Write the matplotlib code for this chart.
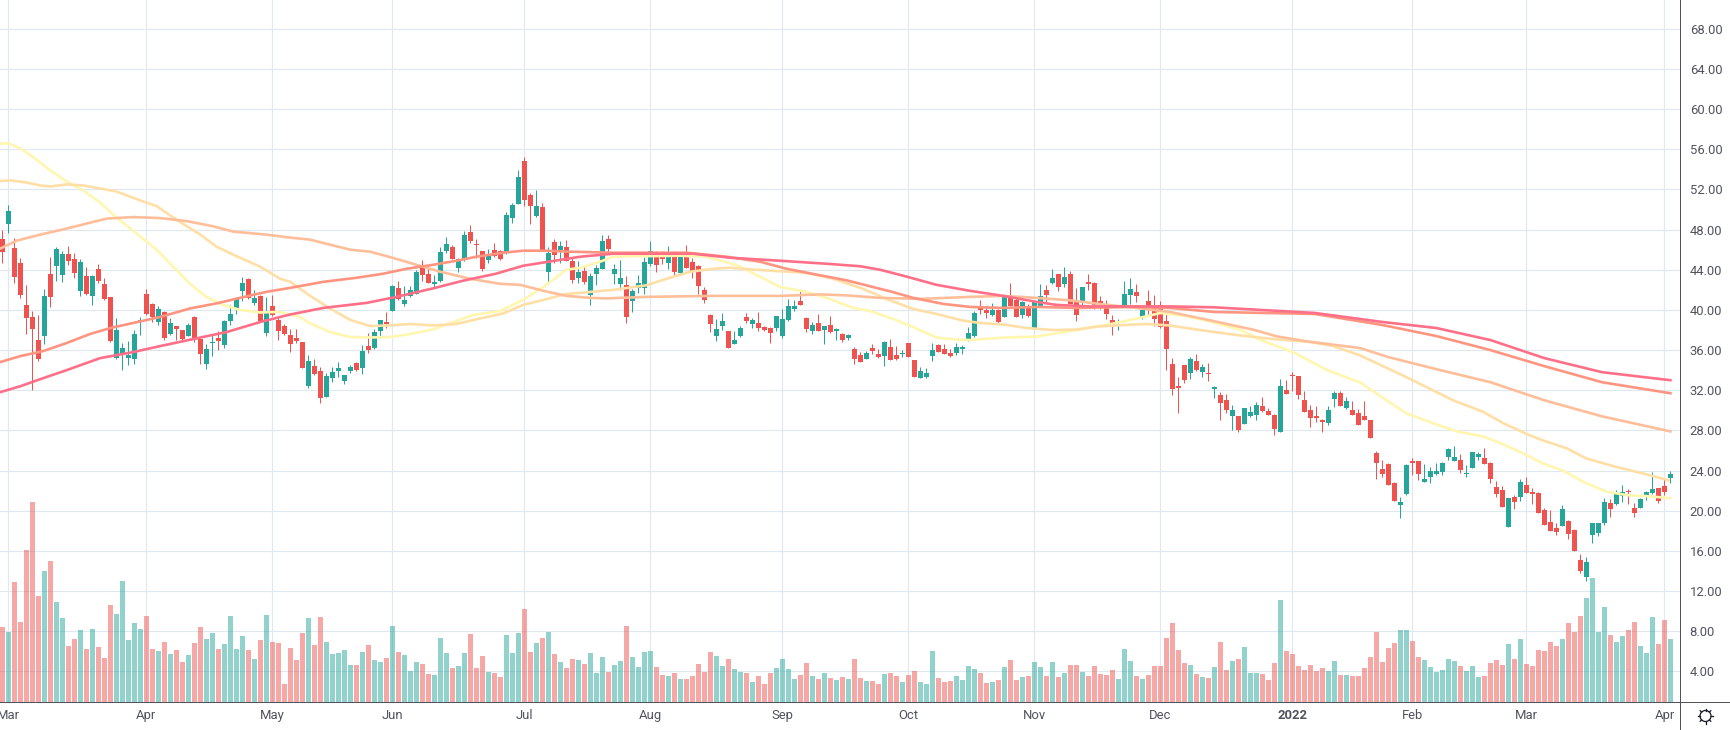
import matplotlib
matplotlib.use("Agg")
import matplotlib.pyplot as plt
from matplotlib.lines import Line2D
from matplotlib.patches import Circle
from matplotlib.transforms import IdentityTransform
import math

plt.rcParams['font.family'] = ['Roboto', 'DejaVu Sans']

opens = [47.06,48.56,46.17,44.67,40.49,39.29,37.0,37.4,43.57,44.37,
 43.48,45.57,45.07,41.88,43.38,41.38,44.07,42.58,41.28,35.2,
 35.6,35.2,35.1,38.85,41.58,40.6,38.8,39.79,37.6,38.39,
 38.0,37.4,39.29,37.1,34.6,36.7,37.2,36.5,38.9,40.2,
 41.88,43.08,40.69,41.38,37.69,40.39,38.99,38.39,37.5,37.2,
 36.8,32.41,34.4,33.9,31.3,33.2,33.9,32.9,33.9,34.7,
 34.2,36.4,36.2,37.9,38.8,39.9,42.2,40.6,41.4,41.6,
 44.5,43.6,42.6,42.9,45.9,46.3,44.2,45.0,47.8,46.6,
 45.9,45.0,46.0,45.9,45.7,49.2,50.6,54.8,51.4,49.4,
 50.3,43.8,46.8,46.0,46.3,44.9,43.2,43.85,41.46,43.55,
 44.05,47.04,43.55,42.55,42.45,40.86,42.15,42.15,44.54,45.24,
 45.54,44.64,45.54,43.65,45.54,44.74,44.35,41.95,39.46,37.37,
 38.37,37.87,36.57,37.37,39.26,38.56,38.66,38.27,38.17,38.17,
 37.37,38.96,40.06,40.86,39.16,37.87,38.66,37.97,38.47,37.87,
 37.57,37.17,36.07,35.47,35.08,36.17,35.58,35.38,36.27,35.48,
 35.58,36.67,34.98,33.19,33.29,35.38,36.47,36.07,35.67,35.67,
 36.07,36.87,37.37,40.25,39.95,39.46,39.95,39.26,41.25,40.95,
 39.46,40.25,38.06,40.35,41.94,42.64,43.54,42.54,43.54,40.85,
 40.75,42.74,42.64,40.85,40.55,38.96,38.5,40.35,41.45,41.74,
 39.26,40.85,40.35,40.45,38.86,34.63,32.43,34.53,33.73,34.93,
 33.83,33.73,32.13,31.53,31.03,29.43,29.43,28.63,29.43,29.53,
 30.43,29.93,29.53,27.83,32.03,33.53,33.43,31.03,30.03,29.43,
 29.03,28.73,31.13,31.73,30.23,30.03,29.73,29.43,29.03,25.74,
 24.15,24.64,22.75,20.56,21.65,24.94,24.94,22.85,23.35,23.65,
 23.85,25.34,24.94,25.04,23.65,24.25,25.34,25.24,24.74,22.35,
 22.05,18.37,21.36,21.36,22.55,21.85,21.75,20.06,18.87,18.27,
 18.47,18.97,18.07,15.09,13.4,17.58,17.77,18.77,20.75,20.66,
 21.45,21.95,20.26,20.26,21.45,21.75,22.25,22.44,23.24]

closes = [45.77,49.85,43.28,41.48,39.19,38.09,35.1,41.38,41.28,46.07,
 45.57,44.87,43.67,44.77,41.58,43.38,42.88,41.08,36.9,38.0,
 36.2,35.5,37.6,39.0,39.6,39.29,40.09,37.2,38.69,38.09,
 37.1,38.5,37.0,35.6,36.1,36.8,36.9,38.9,39.6,41.08,
 42.68,41.18,41.18,38.89,39.89,39.49,37.9,37.6,36.6,36.9,
 34.2,34.9,33.6,31.2,33.4,33.8,34.2,33.5,34.3,34.0,
 35.9,36.0,37.8,39.0,38.6,42.4,41.1,41.0,42.0,43.8,
 43.5,42.7,42.8,45.8,46.6,45.1,45.1,47.5,46.9,46.5,
 44.1,45.5,45.4,45.1,49.5,50.5,53.2,50.9,50.4,50.4,
 45.9,45.7,45.5,46.4,44.9,43.0,43.8,42.75,43.35,44.15,
 46.84,46.04,44.05,43.15,39.26,41.85,42.65,44.74,45.84,44.45,
 45.04,45.64,43.75,45.24,44.15,43.85,42.35,40.96,38.56,38.07,
 38.86,36.17,36.97,38.17,38.86,38.96,38.17,37.97,37.67,39.36,
 39.06,40.36,40.36,40.46,38.07,38.46,37.87,38.37,37.77,38.07,
 36.97,37.47,35.08,34.78,35.67,35.87,35.28,36.77,34.98,35.08,
 35.67,35.28,33.29,33.88,33.68,35.97,35.77,35.58,35.38,36.27,
 36.27,37.67,39.65,39.95,39.65,39.95,38.76,41.25,40.35,39.26,
 40.75,39.36,40.85,41.35,41.45,43.14,42.24,43.24,40.55,39.46,
 42.24,42.54,40.45,40.55,39.56,38.36,38.63,41.55,42.04,41.35,
 39.95,40.35,39.06,38.26,36.13,32.13,32.23,33.03,35.13,34.03,
 34.33,33.63,32.33,30.73,30.03,30.03,28.03,30.23,29.83,30.53,
 29.93,29.53,28.13,32.43,31.63,33.43,31.53,29.83,29.23,29.23,
 28.83,30.03,31.73,30.43,30.93,29.53,28.53,29.03,27.24,24.74,
 23.65,22.55,20.96,20.86,24.54,24.74,23.65,23.15,23.95,23.95,
 24.74,26.14,25.34,24.04,23.75,25.84,25.64,24.64,23.15,21.65,
 20.36,21.26,20.86,22.85,21.75,21.65,19.76,18.57,17.97,17.87,
 20.16,17.68,15.99,14.0,14.89,18.77,18.77,20.85,20.16,21.75,
 21.85,21.85,19.76,21.15,21.85,22.15,20.95,21.85,23.64]

highs = [47.97,50.45,47.16,45.17,42.48,39.89,39.49,42.08,45.27,46.27,
 45.87,46.37,45.67,45.07,44.27,43.48,44.57,43.18,41.28,39.19,
 36.7,36.9,38.0,39.29,42.08,40.7,40.39,39.89,39.19,38.39,
 38.0,38.69,39.39,37.1,36.6,37.6,37.9,39.0,40.5,41.28,
 43.28,43.18,41.98,41.48,41.28,41.48,39.39,38.59,38.09,38.09,
 36.8,35.5,35.1,34.3,33.7,34.3,34.8,33.5,34.5,34.8,
 36.5,37.7,38.1,39.0,39.8,42.5,42.9,42.4,42.4,44.0,
 45.0,44.5,43.5,46.3,47.3,46.5,45.2,47.9,48.5,47.1,
 45.9,46.1,46.7,46.0,49.8,50.7,53.9,55.2,51.6,51.9,
 50.7,46.3,47.1,46.9,47.0,45.3,44.9,44.45,43.65,44.45,
 47.44,47.44,44.55,44.94,43.35,42.05,43.45,45.24,46.84,45.84,
 45.84,46.34,45.84,45.54,46.44,45.14,44.45,42.25,39.56,39.06,
 39.66,37.87,37.87,38.37,39.66,39.16,39.76,38.37,38.27,39.36,
 40.06,41.06,40.96,41.85,39.26,38.76,39.56,38.37,39.36,38.17,
 37.67,37.57,36.27,35.78,35.87,36.57,36.07,36.87,37.07,36.37,
 35.97,36.67,34.98,34.28,34.18,36.67,36.57,36.57,36.07,36.67,
 36.47,38.27,39.85,40.95,40.35,40.65,40.05,41.45,42.64,41.25,
 40.85,40.55,40.85,42.54,42.44,44.03,43.54,44.23,43.83,42.14,
 42.24,43.54,42.74,41.35,40.95,39.46,39.06,42.84,43.14,42.54,
 40.35,41.94,41.45,40.85,39.66,35.23,33.33,34.53,35.33,35.63,
 34.63,34.73,32.43,31.83,31.63,30.53,29.43,30.23,30.43,30.83,
 31.33,30.23,29.63,33.13,33.03,33.83,33.43,31.93,30.53,30.43,
 29.13,30.43,31.93,31.93,31.33,30.93,30.13,30.92,29.03,25.94,
 25.04,24.74,22.85,21.36,24.64,25.24,24.94,24.64,24.35,24.74,
 24.84,26.24,26.44,25.64,24.54,25.84,25.84,26.24,24.84,22.95,
 22.45,21.26,21.56,23.15,23.35,22.25,21.85,20.26,20.06,18.77,
 20.56,19.07,18.17,15.69,15.39,18.77,18.77,21.25,21.15,22.05,
 22.54,22.15,20.75,21.25,21.95,23.83,22.25,23.24,23.93]

lows = [44.67,47.66,42.68,41.18,37.6,32.0,34.9,36.6,40.29,42.88,
 42.78,44.47,43.18,41.38,41.48,40.49,42.68,40.98,36.8,35.1,
 34.0,34.5,34.6,37.5,39.5,38.8,38.5,37.0,37.5,37.0,
 36.8,37.4,36.8,34.6,34.1,35.4,36.0,36.2,38.5,39.6,
 40.88,41.08,40.49,38.79,37.4,39.39,37.0,37.5,35.8,36.7,
 34.2,32.2,33.5,30.7,31.3,32.8,33.3,32.6,33.7,33.9,
 33.6,35.7,36.1,37.2,38.2,39.9,41.0,40.4,41.3,41.6,
 42.9,42.7,42.2,42.8,45.7,45.1,43.8,44.9,46.7,45.2,
 43.9,44.7,45.3,45.0,45.6,48.7,50.6,50.4,48.6,49.3,
 45.9,42.8,44.7,44.7,44.9,42.7,42.7,42.55,40.46,42.45,
 44.05,45.54,42.55,41.95,38.66,39.76,41.65,41.55,44.35,43.75,
 44.54,44.05,43.45,43.65,44.15,43.15,41.55,40.66,37.77,36.87,
 37.97,36.17,36.57,37.27,38.66,38.17,37.87,37.87,36.67,37.87,
 37.17,38.86,39.86,40.46,37.77,37.57,37.87,36.57,37.67,36.97,
 36.77,36.97,34.58,34.78,35.08,35.57,35.18,34.38,34.98,34.98,
 35.28,35.28,33.29,33.19,33.19,34.88,35.77,35.58,35.28,35.48,
 35.58,36.87,37.27,39.56,39.16,39.36,38.56,39.26,40.35,39.26,
 39.16,39.26,38.06,40.25,40.65,42.54,41.84,42.24,40.55,38.86,
 40.35,41.94,40.05,40.05,39.06,37.47,37.96,40.25,40.55,40.75,
 39.06,39.46,38.36,38.16,33.98,31.53,29.73,32.73,33.13,33.93,
 33.33,32.93,31.23,29.03,29.73,28.03,27.83,28.63,29.33,29.03,
 29.83,29.53,27.53,27.83,31.63,31.93,31.13,29.83,28.33,28.83,
 27.83,28.53,30.33,30.43,30.13,29.53,28.53,29.03,27.24,23.15,
 23.35,22.55,20.96,19.26,21.55,23.55,23.05,22.85,22.75,23.55,
 23.55,25.04,24.94,23.75,23.35,24.25,25.04,24.64,22.75,21.36,
 20.36,18.37,20.16,20.96,21.75,20.65,19.76,18.57,17.97,17.58,
 18.47,17.18,15.99,13.8,13.0,16.78,17.48,18.57,19.36,20.56,
 20.85,20.66,19.36,20.26,21.05,21.65,20.75,21.55,22.74]

volumes = [75,70,120,80,152,200,106,131,141,100,
 84,56,63,72,53,73,55,44,97,88,
 121,62,79,73,86,53,51,60,48,52,
 40,47,59,75,63,69,53,58,86,53,
 66,52,43,62,87,60,59,18,54,42,
 69,84,57,85,60,48,49,52,37,37,
 50,57,42,40,44,76,50,47,31,40,
 38,28,27,64,49,34,36,49,68,34,
 46,30,29,25,67,49,69,93,50,59,
 64,70,48,40,34,43,42,38,49,29,
 45,30,37,41,76,45,35,50,51,35,
 27,26,29,23,23,26,38,30,50,46,
 36,43,33,30,29,20,26,18,29,34,
 43,33,23,27,39,26,23,29,24,22,
 25,23,43,24,21,21,18,28,29,26,
 20,27,31,20,18,51,24,20,21,26,
 22,36,33,29,19,20,22,35,42,22,
 25,26,40,35,26,40,25,29,37,37,
 30,26,36,28,27,32,23,53,41,26,
 23,27,36,36,64,79,52,39,37,28,
 25,24,35,60,32,41,43,55,29,29,
 28,22,39,102,51,48,36,32,37,31,
 34,31,41,27,27,26,26,34,45,70,
 40,54,59,72,72,61,45,42,35,30,
 32,43,41,36,31,36,25,26,39,42,
 37,58,43,63,38,36,52,51,60,56,
 63,79,70,86,104,124,70,95,67,60,
 66,72,80,56,49,85,58,82,63]

ma1_x = [-0.4,1,3,5.2,8,10.7,13.5,16.3,19,22,25.7,28.5,31.3,34,36.8,39.6,43,46.3,49.6,51.3,54.6,58,61.3,64.6,68,71.8,75.2,78.5,83,86.8,90.2,94,96.3,99.6,101.8,105.8,113,117.4,122.4,126.3,129.6,134,137.4,141.8,144.6,148.5,151.8,155.7,159,161.3,166.8,172.4,178,183.5,188,191.3,193,197,201,206.3,209.6,215.2,220.7,226.3,230.7,234,238.5,242.4,246.8,249.6,253,256.8,260.2,263.5,267.4,270.8,274.2,278]
ma1_y = [56.56,56.6,56.1,55.2,53.9,52.8,51.9,50.7,49.2,47.8,46,44.3,42.6,41.3,40.5,40,39.75,39.8,39.3,38.66,37.8,37.3,37.26,37.3,37.6,38.06,38.8,39.5,39.9,41,42.3,44,44.2,44.8,45.3,45.35,45.4,45.3,44.45,43.3,42.3,41.8,41.2,40.2,39.9,39.1,38.3,37.25,37.05,37,37.25,37.35,37.9,38.45,39,39.45,39.7,39.4,38.9,38.03,37.03,35.77,34.03,32.77,31,29.7,28.7,27.9,27.4,26.75,25.85,24.7,23.97,22.87,21.9,21.55,21.45,21.25]
ma2_x = [-0.4,1.3,4,6.3,8,10.7,13.5,16.3,19,23,25.7,29,33,35.7,38.5,43,46.3,48,51.3,54.6,58,61.3,64.6,68,71.8,75.7,79.6,83.5,86.8,90.2,94,96.3,101.8,107.3,110.7,114.6,118.5,121.3,125.7,129.6,134,138.5,143,148,151.8,155.7,160,162.9,166.8,170.7,175.2,179.1,182.4,187,190.7,194.6,199.6,205.7,211.8,218,221.8,226.3,234,241.8,246.8,250.2,254.6,256.8,260.8,264,269,273.5,277.7]
ma2_y = [52.84,52.9,52.7,52.4,52.3,52.5,52.4,52.1,51.8,50.9,50.35,49,47.5,46.3,45.5,44.3,43.1,42.8,41.4,40.15,39,38.4,38.46,38.6,38.46,38.6,39.15,39.65,40.5,41,41.6,41.7,42,42.45,43.1,43.8,44.1,44.2,44,43.85,43.7,43.1,42.2,40.95,40.1,39.6,38.95,38.7,38.55,38.2,38,38.05,38.35,38.5,38.6,38.45,38,37.5,37.1,36.8,36.4,35.47,33.3,31,29.85,28.7,27.5,27,26.2,25.2,24.36,23.7,23.04]
ma3_x = [-0.4,2.4,6.3,10.7,14,17.4,21.8,26.3,30.7,35,38.5,44,48,51.3,54.6,58,61.3,65,69,73,78,83,86.3,90.2,94,98,100.7,107.3,118.5,129.6,136.3,140.7,146.3,153,161.3,166.8,172.4,178,183.5,189,194.6,201,208.5,212.4,217.4,226.3,231,239,248,257,266.6,278]
ma3_y = [46.1,46.9,47.5,48.1,48.6,49.1,49.25,49.15,48.85,48.35,47.8,47.5,47.2,47,46.5,46,45.8,45.2,44.5,43.8,43.1,42.6,42.5,41.9,41.4,41.2,41.15,41.3,41.4,41.4,41.55,41.45,41.2,41.1,41.3,41.4,41.2,40.95,40.55,40.2,39.8,39,38.03,37.37,36.87,36.2,35.3,34.1,32.8,31,29.4,27.9]
ma4_x = [-0.4,3,6.8,10.7,14.6,18,21.8,26.3,31.3,35.7,39.6,44,48,53.5,59,63.4,67.4,71.8,75.7,79,83.5,86.8,90.7,94.6,101.8,114,120.7,126.3,130.7,135,140.7,146.3,148,151.8,156.8,161.3,166.8,172.4,179,189,194.6,202,218.7,230,239,248,257,266.6,278]
ma4_y = [34.8,35.4,35.9,36.7,37.6,38.2,38.7,39.3,40.15,40.65,41.2,41.8,42.2,42.8,43.2,43.6,44.1,44.5,44.9,45.3,45.7,45.9,45.9,45.8,45.7,45.7,45.3,44.8,44.1,43.6,42.95,42.1,41.85,41.2,40.6,40.3,40.2,40.3,40.2,40.3,40.2,39.8,39.6,38.5,37.4,36,34.4,32.8,31.7]
ma5_x = [-0.4,3,6.3,10.7,16.3,21.8,26.3,31.8,37.4,43,48,53.5,60.7,65.7,71.8,76.7,82.2,86.8,91,96.3,101.8,109.6,115.2,121.3,129.6,137.4,143,146.3,150.2,155.7,161.3,166.8,172.4,175.7,181.3,189,194.6,202,218.7,230,239,248,257,266.6,278]
ma5_y = [31.8,32.4,33.1,34,35.2,35.8,36.4,37.1,37.8,38.8,39.55,40.2,40.7,41.3,42.15,42.9,43.6,44.4,44.8,45.3,45.6,45.6,45.6,45.2,44.9,44.6,44.35,44,43.4,42.5,41.9,41.4,40.8,40.5,40.35,40.35,40.35,40.26,39.7,38.8,38.2,37,35.2,33.8,33]

price_ticks = list(range(4, 72, 4))
month_pos = [1, 24, 45, 65, 87, 108, 130, 151, 172, 193, 215, 235, 254, 277]
month_labels = ['Mar','Apr','May','Jun','Jul','Aug','Sep','Oct','Nov','Dec','2022','Feb','Mar','Apr']

UP = '#26A69A'; DOWN = '#EF5350'; GRID = '#DDE8F0'; AXIS = '#50535E'
W, H = 1730, 730
fig = plt.figure(figsize=(W/100, H/100), dpi=100, facecolor='white')
ax = fig.add_axes([0, (H-702)/H, 1680/W, 702/H])
vol = ax.twinx()

ax.set_xlim(-0.388, 279.6)
ax.set_ylim(0.95, 70.87)
ax.yaxis.tick_right()
ax.yaxis.set_label_position('right')
ax.set_yticks(price_ticks)
ax.set_yticklabels([f'{v:.2f}' for v in price_ticks])
ax.set_xticks(month_pos)
ax.set_xticklabels(month_labels)
ax.tick_params(axis='both', length=0, labelsize=9.4, labelcolor=AXIS)
ax.tick_params(axis='y', pad=7)
ax.tick_params(axis='x', pad=5)
for lab, txt in zip(ax.get_xticklabels(), month_labels):
    if txt == '2022':
        lab.set_fontweight('bold')
ax.grid(True, color=GRID, lw=0.8)
ax.set_axisbelow(True)
for s in ('left', 'top'):
    ax.spines[s].set_visible(False)
for s in ('right', 'bottom'):
    ax.spines[s].set_color(AXIS)
    ax.spines[s].set_linewidth(0.72)

idx = list(range(len(opens)))
colors = [UP if c >= o else DOWN for o, c in zip(opens, closes)]

ax.vlines(idx, lows, highs, colors=colors, lw=0.72, zorder=3)
ax.bar(idx, [abs(c-o) for o, c in zip(opens, closes)],
       bottom=[min(o, c) for o, c in zip(opens, closes)],
       width=0.85, color=colors, lw=0, zorder=3)

for xs, ys, col in [(ma1_x, ma1_y, '#FFF6B0'), (ma2_x, ma2_y, '#FFDFA6'),
                    (ma3_x, ma3_y, '#FFBE9A'), (ma4_x, ma4_y, '#FF9580'),
                    (ma5_x, ma5_y, '#FF7088')]:
    ax.plot(xs, ys, color=col, lw=1.9, zorder=4, solid_joinstyle='round')

vol.set_ylim(0, 702)
vol.set_axis_off()
vol.bar(idx, volumes, width=0.85, color=colors, alpha=0.5, lw=0)

# price-scale corner
fig.add_artist(Line2D([1680, 1730], [H-702, H-702], color=AXIS, lw=0.72, transform=IdentityTransform()))
fig.add_artist(Line2D([1680, 1680], [0, H-702], color=AXIS, lw=0.72, transform=IdentityTransform()))
cx, cy = 1705.5, H-716
fig.add_artist(Circle((cx, cy), 5.5, fill=False, ec='#131722', lw=0.9, transform=IdentityTransform()))
for k in range(8):
    a = k*math.pi/4
    fig.add_artist(Line2D([cx+5.5*math.cos(a), cx+7.5*math.cos(a)],
                          [cy+5.5*math.sin(a), cy+7.5*math.sin(a)],
                          color='#131722', lw=0.9, transform=IdentityTransform()))

fig.savefig('out.png', dpi=100)
